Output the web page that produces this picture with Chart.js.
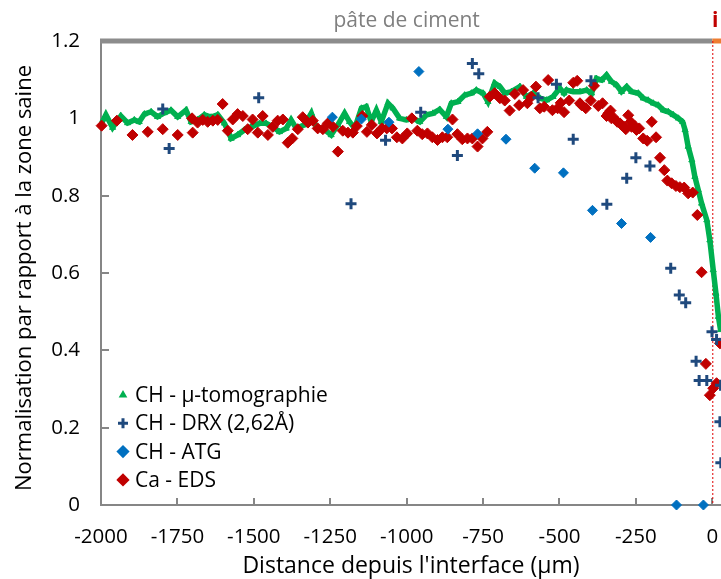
<!DOCTYPE html>
<html>
<head>
  <title>Profils CH / Ca</title>
  <script src="https://cdn.jsdelivr.net/npm/chart.js@4"></script>
  <style>
    body { margin: 0; background: #fff; overflow: hidden; }
  </style>
</head>
<body>
  <canvas id="profil" width="721" height="579"></canvas>

  <script>
// graduations des axes
const xTicks = [-2000, -1750, -1500, -1250, -1000, -750, -500, -250, 0];
const yTicks = [0, 0.2, 0.4, 0.6, 0.8, 1, 1.2];

// CH - µ-tomographie
const tomoX = [-1998, -1984, -1962, -1935, -1913, -1891, -1875, -1858, -1836, -1815, -1793, -1771, -1749, -1722, -1705,
  -1684, -1662, -1640, -1618, -1596, -1574, -1553, -1531, -1509, -1481, -1460, -1438, -1416, -1394, -1378, -1361,
  -1334, -1312, -1296, -1274, -1247, -1225, -1203, -1187, -1170, -1148, -1132, -1116, -1099, -1083, -1061, -1045,
  -1023, -1001, -979, -957, -935, -914, -892, -870, -854, -832, -810, -788, -772, -750, -734, -712, -695, -679,
  -657, -630, -608, -586, -564, -542, -521, -499, -485, -477, -455, -433, -411, -395, -379, -362, -346, -330,
  -313, -297, -280, -264, -242, -226, -210, -193, -177, -160, -144, -128, -111, -97, -89, -79, -67, -57, -46,
  -35, -18, -8, 3, 12, 20, 27];
const tomoY = [0.987, 1.009, 0.976, 1.006, 0.988, 0.996, 0.991, 1.011, 1.017, 1.004, 1.014, 1.021, 1.004, 1.021, 0.991,
  0.996, 1.009, 1.003, 1.009, 0.987, 0.948, 0.957, 0.970, 0.978, 0.987, 0.987, 0.978, 0.965, 0.974, 0.996, 0.974,
  0.983, 1.013, 0.978, 0.974, 0.957, 0.983, 1.013, 0.991, 0.974, 1.026, 1.030, 0.991, 1.021, 0.991, 1.039, 1.026,
  1.000, 0.996, 1.000, 0.991, 1.009, 1.013, 1.023, 1.004, 1.039, 1.043, 1.060, 1.065, 1.073, 1.065, 1.043, 1.091,
  1.082, 1.065, 1.069, 1.082, 1.056, 1.065, 1.052, 1.047, 1.056, 1.078, 1.065, 1.073, 1.069, 1.069, 1.073, 1.065,
  1.103, 1.099, 1.112, 1.095, 1.086, 1.069, 1.082, 1.069, 1.065, 1.052, 1.047, 1.039, 1.034, 1.021, 1.017, 1.009,
  1.000, 0.991, 0.970, 0.927, 0.892, 0.849, 0.815, 0.780, 0.737, 0.685, 0.608, 0.547, 0.487, 0.453];

// CH - DRX (2,62Å)
const drxX = [-1798, -1777, -1484, -1182, -1069, -954, -834, -785, -764, -570, -510, -455, -397, -345, -280, -250,
  -204, -136, -108, -87, -53, -43, -18, -1, 14, 27, 25, 28];
const drxY = [1.024, 0.922, 1.053, 0.779, 0.943, 1.016, 0.904, 1.142, 1.115, 1.053, 1.088, 0.946, 1.097, 0.778, 0.845,
  0.898, 0.877, 0.612, 0.543, 0.523, 0.372, 0.322, 0.322, 0.448, 0.428, 0.31, 0.215, 0.109];

// CH - ATG
const atgX = [-1243, -1148, -1058, -960, -865, -768, -675, -581, -487, -392, -297, -202, -117, -29];
const atgY = [1.003, 0.998, 0.99, 1.121, 0.972, 0.960, 0.946, 0.871, 0.859, 0.762, 0.728, 0.692, 0, 0];

// Ca - EDS
const edsX = [-1998, -1948, -1897, -1847, -1798, -1749, -1702, -1700, -1684, -1667, -1651, -1634, -1618, -1602, -1585,
  -1569, -1553, -1536, -1520, -1504, -1487, -1471, -1454, -1438, -1422, -1405, -1389, -1374, -1356, -1340, -1323,
  -1307, -1291, -1274, -1258, -1241, -1225, -1209, -1192, -1176, -1163, -1145, -1130, -1114, -1097, -1081, -1065,
  -1048, -1032, -1014, -998, -983, -965, -949, -932, -916, -899, -883, -867, -850, -834, -818, -801, -785, -768,
  -752, -736, -728, -712, -695, -679, -663, -646, -632, -619, -605, -592, -577, -564, -550, -537, -523, -506, -496,
  -485, -468, -455, -442, -433, -428, -414, -398, -387, -373, -359, -346, -340, -333, -330, -324, -311, -302, -297,
  -286, -283, -275, -267, -264, -253, -248, -239, -226, -213, -198, -184, -171, -157, -147, -133, -119, -106, -92,
  -79, -64, -49, -35, -21, -8, 3, 14, 25];
const edsY = [0.981, 0.994, 0.957, 0.965, 0.972, 0.957, 1.000, 0.963, 0.989, 0.996, 0.991, 0.994, 0.996, 1.037, 0.968,
  0.997, 1.011, 1.006, 0.972, 0.997, 0.963, 1.006, 0.957, 0.978, 0.994, 0.997, 0.937, 0.948, 0.972, 1.003, 0.989,
  0.994, 0.974, 0.972, 0.987, 0.978, 0.914, 0.968, 0.963, 0.963, 0.980, 1.006, 0.965, 0.983, 0.961, 0.974, 0.974,
  0.974, 0.951, 0.948, 0.961, 1.000, 0.968, 0.959, 0.961, 0.951, 0.944, 0.951, 0.951, 0.997, 0.959, 0.946, 0.948,
  0.948, 0.927, 0.948, 0.965, 1.056, 1.065, 1.052, 1.046, 1.020, 1.063, 1.034, 1.073, 1.039, 1.056, 1.082, 1.026,
  1.030, 1.099, 1.021, 1.026, 1.040, 1.016, 1.046, 1.092, 1.097, 1.039, 1.034, 1.026, 1.046, 1.084, 1.032, 1.039,
  1.006, 1.013, 1.020, 1.000, 1.003, 0.991, 0.987, 0.983, 0.978, 0.972, 1.008, 0.991, 0.978, 0.980, 0.970, 0.974,
  0.948, 0.942, 0.991, 0.951, 0.898, 0.866, 0.839, 0.832, 0.825, 0.822, 0.821, 0.806, 0.808, 0.750, 0.602, 0.365,
  0.284, 0.302, 0.315, 0.418];

const pts = (xs, ys) => xs.map((x, i) => ({ x: x, y: ys[i] }));

Chart.defaults.font.family = "'Open Sans', sans-serif";
Chart.defaults.color = '#000';

// cadre : ticks intérieurs, bandeau du haut, ligne de l'interface
const cadre = {
  id: 'cadre',
  beforeDatasetsDraw(chart) {
    const { ctx, chartArea: a, scales: { x, y } } = chart;
    const x0 = x.getPixelForValue(0);
    ctx.save();
    ctx.strokeStyle = '#868686';
    ctx.lineWidth = 2;
    ctx.beginPath();
    yTicks.forEach(v => {
      const py = Math.round(y.getPixelForValue(v));
      ctx.moveTo(a.left, py); ctx.lineTo(a.left + 8, py);
    });
    xTicks.forEach(v => {
      const px = Math.round(x.getPixelForValue(v));
      ctx.moveTo(px, a.bottom); ctx.lineTo(px, a.bottom - 7);
    });
    ctx.stroke();

    ctx.lineWidth = 5;
    ctx.strokeStyle = '#8c8c8c';
    ctx.beginPath(); ctx.moveTo(a.left - 1, a.top); ctx.lineTo(x0, a.top); ctx.stroke();
    ctx.strokeStyle = '#ed7d31';
    ctx.beginPath(); ctx.moveTo(x0, a.top); ctx.lineTo(a.right, a.top); ctx.stroke();

    ctx.lineWidth = 1;
    ctx.strokeStyle = '#e00000';
    ctx.setLineDash([2, 2]);
    ctx.beginPath(); ctx.moveTo(x0 + 0.5, a.top); ctx.lineTo(x0 + 0.5, a.bottom); ctx.stroke();
    ctx.restore();
  },
  afterDraw(chart) {
    const { ctx, chartArea: a, scales: { x } } = chart;
    const x0 = x.getPixelForValue(0);
    ctx.save();
    ctx.textBaseline = 'middle';
    ctx.textAlign = 'center';
    ctx.font = "21px 'Open Sans', sans-serif";
    ctx.fillStyle = '#7f7f7f';
    ctx.fillText('pâte de ciment', (a.left + x0) / 2, 21);
    ctx.font = "bold 21px 'Open Sans', sans-serif";
    ctx.fillStyle = '#c00000';
    ctx.fillText('i', x0 + 3, 21);

    // titre de l'axe vertical
    ctx.save();
    ctx.translate(25, 278);
    ctx.rotate(-Math.PI / 2);
    ctx.font = "22px 'Open Sans', sans-serif";
    ctx.fillStyle = '#000';
    ctx.fillText('Normalisation par rapport à la zone saine', 0, 0);
    ctx.restore();

    // légende
    ctx.textAlign = 'left';
    ctx.font = "21px 'Open Sans', sans-serif";
    chart.data.datasets.forEach((ds, i) => {
      const ly = 395 + i * 28.3;
      ctx.fillStyle = ds.backgroundColor;
      ctx.strokeStyle = ds.borderColor;
      Chart.helpers.drawPoint(ctx, {
        pointStyle: ds.pointStyle,
        radius: ds.legendRadius,
        borderWidth: ds.legendBorder,
        rotation: 0
      }, 123, ly);
      ctx.fillStyle = '#000';
      ctx.fillText(ds.label, 135, ly + 1);
    });
    ctx.restore();
  }
};

new Chart(document.getElementById('profil'), {
  type: 'scatter',
  data: {
    datasets: [
      {
        label: 'CH - µ-tomographie',
        data: pts(tomoX, tomoY),
        showLine: true,
        borderColor: '#00b050',
        backgroundColor: '#00b050',
        borderWidth: 5.5,
        pointStyle: 'triangle',
        pointRadius: 3.5,
        pointBorderWidth: 1,
        legendRadius: 2,
        legendBorder: 1,
        order: 4,
        clip: false
      },
      {
        label: 'CH - DRX (2,62Å)',
        data: pts(drxX, drxY),
        borderColor: '#1f497d',
        backgroundColor: '#1f497d',
        pointStyle: 'cross',
        pointRadius: 5.5,
        pointBorderWidth: 3,
        legendRadius: 5,
        legendBorder: 3,
        order: 1,
        clip: false
      },
      {
        label: 'CH - ATG',
        data: pts(atgX, atgY),
        borderColor: '#0070c0',
        backgroundColor: '#0070c0',
        pointStyle: 'rectRot',
        pointRadius: 5,
        pointBorderWidth: 1,
        legendRadius: 4.5,
        legendBorder: 1,
        order: 2,
        clip: false
      },
      {
        label: 'Ca - EDS',
        data: pts(edsX, edsY),
        borderColor: '#c00000',
        backgroundColor: '#c00000',
        pointStyle: 'rectRot',
        pointRadius: 5.5,
        pointBorderWidth: 1,
        legendRadius: 4.5,
        legendBorder: 1,
        order: 3,
        clip: false
      }
    ]
  },
  options: {
    responsive: false,
    animation: false,
    events: [],
    layout: { autoPadding: false, padding: { top: 41, left: 0, right: 0, bottom: 0 } },
    plugins: {
      legend: { display: false },
      tooltip: { enabled: false }
    },
    scales: {
      x: {
        type: 'linear',
        min: -2000,
        max: 28.5,
        afterBuildTicks: s => { s.ticks = xTicks.map(v => ({ value: v })); },
        afterFit: s => { s.height = 74; s.paddingLeft = 0; s.paddingRight = 0; },
        grid: { display: false, drawTicks: false },
        border: { color: '#868686', width: 2 },
        ticks: {
          padding: 20,
          font: { size: 20.5 },
          color: '#000',
          callback: v => String(v)
        },
        title: {
          display: true,
          text: "Distance depuis l'interface (µm)",
          font: { size: 23 },
          color: '#000',
          padding: { top: 0, bottom: -1 }
        }
      },
      y: {
        min: 0,
        max: 1.2,
        afterBuildTicks: s => { s.ticks = yTicks.map(v => ({ value: v })); },
        afterFit: s => { s.width = 101; s.paddingTop = 0; s.paddingBottom = 0; },
        grid: { display: false, drawTicks: false },
        border: { color: '#868686', width: 2 },
        ticks: {
          padding: 21,
          font: { size: 20.5 },
          color: '#000',
          callback: v => String(Math.round(v * 10) / 10)
        }
      }
    }
  },
  plugins: [cadre]
});
  </script>
</body>
</html>
